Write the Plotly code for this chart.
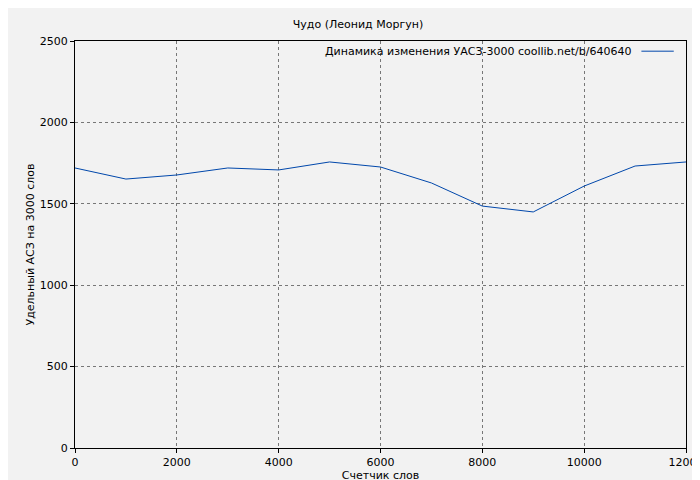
import plotly.graph_objects as go

x_words = [0, 1000, 2000, 3000, 4000, 5000, 6000, 7000, 8000, 9000, 10000, 11000, 12000]
y_values = [1720, 1652, 1677, 1720, 1708, 1757, 1726, 1628, 1486, 1450, 1609, 1732, 1757]
x_ticks = [0, 2000, 4000, 6000, 8000, 10000, 12000]
x_labels = ["0", "2000", "4000", "6000", "8000", "10000", "12000"]
y_ticks = [0, 500, 1000, 1500, 2000, 2500]
y_labels = ["0", "500", "1000", "1500", "2000", "2500"]
legend_text = "Динамика изменения УАСЗ-3000 coollib.net/b/640640"

fig = go.Figure(go.Scatter(x=x_words, y=y_values, mode="lines",
                           line=dict(color="#0047ab", width=1), name=legend_text))
ax = dict(showgrid=True, gridcolor="#777", griddash="dot", gridwidth=1,
          showline=True, linecolor="black", mirror=True, ticks="outside",
          ticklen=4, tickcolor="black", zeroline=False, automargin=False,
          title_font=dict(size=11))
fig.update_layout(
    width=700, height=480, paper_bgcolor="#f2f2f2", plot_bgcolor="#f2f2f2",
    font=dict(family="DejaVu Sans", size=11, color="black"),
    title=dict(text="Чудо (Леонид Моргун)", x=0.5, y=0.975, xanchor="center", font=dict(size=11)),
    margin=dict(l=67, r=22, t=33, b=40, autoexpand=False),
    xaxis=dict(ax, range=[0, 12000], tickvals=x_ticks, ticktext=x_labels,
               title=dict(text="Счетчик слов", standoff=2)),
    yaxis=dict(ax, range=[0, 2500], tickvals=y_ticks, ticktext=y_labels,
               title=dict(text="Удельный АСЗ на 3000 слов", standoff=2)),
    showlegend=False,
    annotations=[dict(text=legend_text, xref="paper", yref="paper", x=0.915, y=0.975,
                      xanchor="right", yanchor="middle", showarrow=False, font=dict(size=11))],
    shapes=[dict(type="line", xref="paper", yref="paper", x0=0.927, x1=0.98, y0=0.975, y1=0.975,
                 line=dict(color="#0047ab", width=1))],
)
fig.write_html("out.html")
